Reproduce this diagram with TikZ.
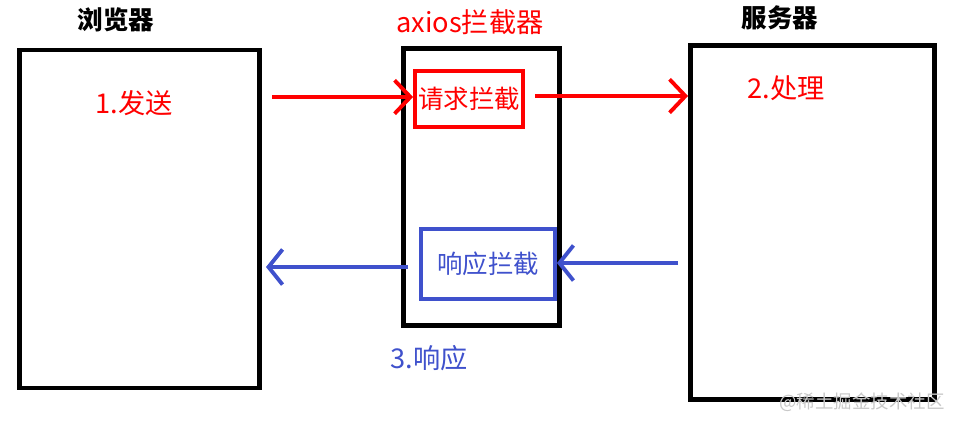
\documentclass[tikz,border=0pt]{standalone}
\usepackage{fontspec}
\setmainfont{Noto Sans CJK SC}
\usetikzlibrary{positioning,arrows.meta}
\definecolor{reqred}{RGB}{255,0,0}
\definecolor{resblue}{RGB}{63,81,204}
\definecolor{markgray}{RGB}{200,200,200}

\begin{document}
\begin{tikzpicture}[x=0.02cm, y=-0.02cm,
  lbl/.style={font=\fontsize{15.5}{17}\selectfont, inner sep=1pt},
  ttl/.style={font=\fontsize{14.5}{16}\selectfont\bfseries, inner sep=1pt},
  bigbox/.style={draw=black, line width=2.8pt, inner sep=0pt},
  reqbox/.style={draw=reqred, line width=2.2pt, inner sep=0pt, text=reqred,
    minimum width=2.16cm, minimum height=1.12cm, font=\fontsize{14.5}{16}\selectfont},
  resbox/.style={draw=resblue, line width=2.2pt, inner sep=0pt, text=resblue,
    minimum width=2.68cm, minimum height=1.4cm, font=\fontsize{14.5}{16}\selectfont},
  redarrow/.style={draw=reqred, line width=2.2pt, -{Straight Barb[length=9pt,width=19pt]}},
  bluearrow/.style={draw=resblue, line width=2.2pt, -{Straight Barb[length=8pt,width=20pt]}}
]
\useasboundingbox (0,0) rectangle (958,427);

% the three parts
\node[bigbox, minimum width=4.8cm, minimum height=6.76cm] (browser) at (139.5,219) {};
\node[bigbox, minimum width=3.12cm, minimum height=5.54cm] (axios) at (481.5,187) {};
\node[bigbox, minimum width=4.88cm, minimum height=7.08cm] (server) at (812.5,222.5) {};

\node[ttl] (tbrowser) at (116,20) {浏览器};
\node[lbl, text=reqred] (taxios) at (470,22) {axios拦截器};
\node[ttl] (tserver) at (780,18) {服务器};

% interceptors
\node[reqbox] (req) at (469,99) {请求拦截};
\node[resbox] (res) at (488,264) {\raisebox{-2pt}{响应拦截}};

% steps
\node[lbl, text=reqred] (send) at (134,103) {1.发送};
\node[lbl, text=reqred] (handle) at (786,88) {2.处理};
\node[lbl, text=resblue] (reply) at (429,358) {3.响应};

\coordinate (sendstart) at (272,97);
\coordinate (procstart) at (535,96);
\coordinate (backstart) at (678,263);
\coordinate (replystart) at (408,267);
\coordinate (replyend) at (266,267);

\draw[redarrow] (sendstart) -- (sendstart -| req.west);
\draw[redarrow] (procstart) -- (procstart -| server.west);
\draw[bluearrow] (backstart) -- (backstart -| res.east);
\draw[bluearrow] (replystart) -- (replyend);

\node[font=\fontsize{10.5}{12}\selectfont, text=markgray, inner sep=0pt] (mark) at (862,402) {@稀土掘金技术社区};

\end{tikzpicture}
\end{document}
